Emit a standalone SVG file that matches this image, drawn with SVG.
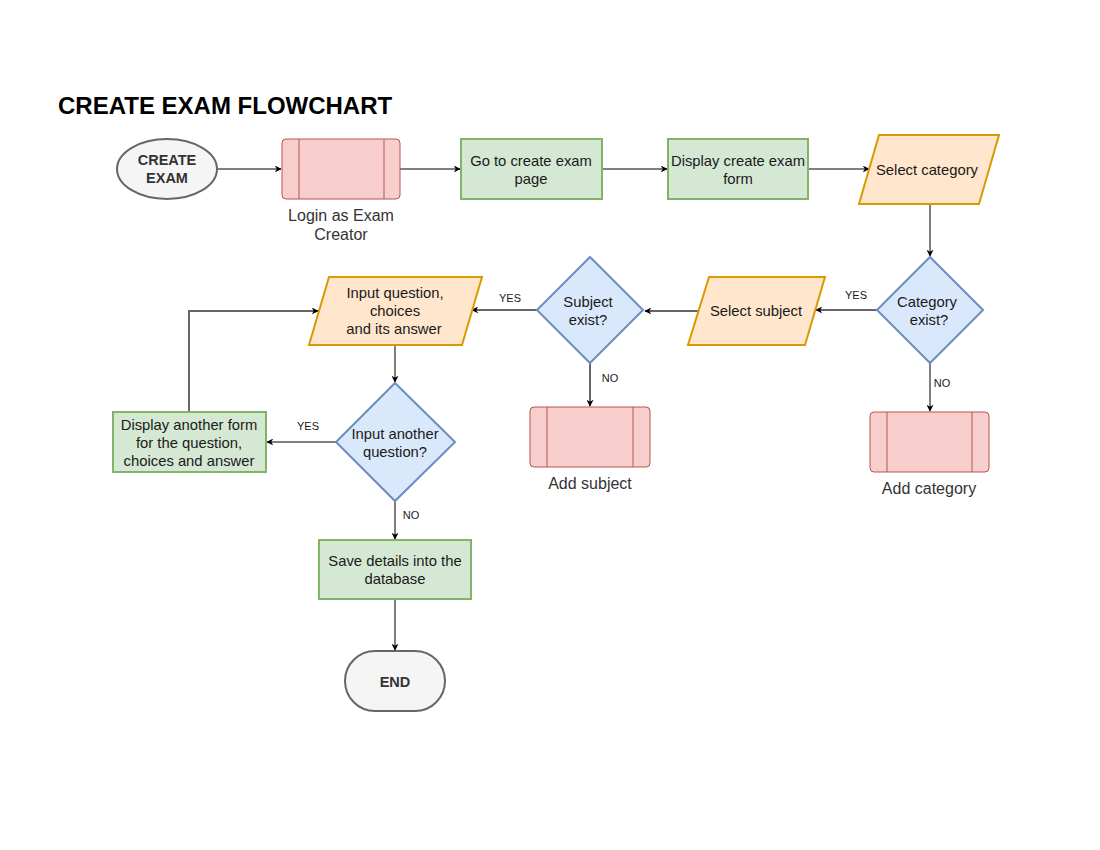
<svg xmlns="http://www.w3.org/2000/svg" width="1100" height="850" viewBox="0 0 1100 850">
<defs>
<marker id="ah" viewBox="0 0 10 10" refX="9" refY="5" markerWidth="7" markerHeight="7" orient="auto" markerUnits="userSpaceOnUse">
<path d="M0,0 L10,5 L0,10 L3,5 Z" fill="#000"/>
</marker>
</defs>
<style>
text{font-family:"Liberation Sans",Arial,sans-serif;fill:#1a1a1a}
.t{font-size:14.8px;text-anchor:middle}
.b{font-weight:bold;fill:#333;font-size:14.5px}
.lbl{font-size:16px;text-anchor:middle;fill:#333}
.el{font-size:11px;text-anchor:middle;fill:#1a1a1a}
.term{fill:#f5f5f5;stroke:#666;stroke-width:2}
.proc{fill:#f8cecc;stroke:#b85450;stroke-width:1}
.act{fill:#d5e8d4;stroke:#82b366;stroke-width:2}
.io{fill:#ffe6cc;stroke:#d79b00;stroke-width:2}
.dec{fill:#dae8fc;stroke:#6c8ebf;stroke-width:2}
.c{fill:none;stroke:#000;stroke-width:1}
.cg{fill:none;stroke:#666;stroke-width:2}
</style>
<rect width="1100" height="850" fill="#fff"/>
<text x="58" y="114" style="font-size:24px;font-weight:bold;fill:#000">CREATE EXAM FLOWCHART</text>

<g id="connectors">
<line class="c" x1="217" y1="169" x2="281" y2="169" marker-end="url(#ah)"/>
<line class="c" x1="400" y1="169" x2="460" y2="169" marker-end="url(#ah)"/>
<line class="c" x1="602" y1="169" x2="667" y2="169" marker-end="url(#ah)"/>
<line class="c" x1="808" y1="169" x2="869" y2="169" marker-end="url(#ah)"/>
<line class="c" x1="930" y1="204" x2="930" y2="256" marker-end="url(#ah)"/>
<line class="cg" x1="877" y1="310" x2="816" y2="310" marker-end="url(#ah)"/>
<line class="cg" x1="698" y1="311" x2="645" y2="311" marker-end="url(#ah)"/>
<line class="cg" x1="537" y1="310" x2="472" y2="310" marker-end="url(#ah)"/>
<line class="cg" x1="590" y1="363" x2="590" y2="406" marker-end="url(#ah)"/>
<line class="c" x1="930" y1="363" x2="930" y2="411" marker-end="url(#ah)"/>
<line class="c" x1="395" y1="345" x2="395" y2="382" marker-end="url(#ah)"/>
<line class="c" x1="336" y1="442" x2="267" y2="442" marker-end="url(#ah)"/>
<polyline class="cg" points="189,412 189,311 318,311" marker-end="url(#ah)"/>
<line class="c" x1="395" y1="501" x2="395" y2="539" marker-end="url(#ah)"/>
<line class="c" x1="395" y1="599" x2="395" y2="650" marker-end="url(#ah)"/>
<rect x="843" y="288" width="26" height="14" fill="#fff"/>
<text class="el" x="856" y="299">YES</text>
<rect x="497" y="290" width="26" height="14" fill="#fff"/>
<text class="el" x="510" y="302">YES</text>
<rect x="295" y="418" width="26" height="14" fill="#fff"/>
<text class="el" x="308" y="430">YES</text>
<rect x="599" y="370" width="22" height="14" fill="#fff"/>
<text class="el" x="610" y="382">NO</text>
<rect x="931" y="376" width="22" height="14" fill="#fff"/>
<text class="el" x="942" y="387">NO</text>
<rect x="400" y="507" width="22" height="14" fill="#fff"/>
<text class="el" x="411" y="519">NO</text>
</g>

<g id="start">
<ellipse class="term" cx="167" cy="169" rx="50" ry="30"/>
<text class="t b" x="167" y="165">CREATE</text>
<text class="t b" x="167" y="183">EXAM</text>
</g>

<g id="login">
<rect class="proc" x="282" y="139" width="118" height="60" rx="4"/>
<line x1="299" y1="139" x2="299" y2="199" stroke="#b85450"/>
<line x1="384" y1="139" x2="384" y2="199" stroke="#b85450"/>
<text class="lbl" x="341" y="221">Login as Exam</text>
<text class="lbl" x="341" y="240">Creator</text>
</g>

<g id="goto">
<rect class="act" x="461" y="139" width="141" height="60"/>
<text class="t" x="531" y="166">Go to create exam</text>
<text class="t" x="531" y="184">page</text>
</g>

<g id="displayform">
<rect class="act" x="668" y="139" width="140" height="60"/>
<text class="t" x="738" y="166">Display create exam</text>
<text class="t" x="738" y="184">form</text>
</g>

<g id="selectcategory">
<polygon class="io" points="879,135 999,135 979,204 859,204"/>
<text class="t" x="927" y="175">Select category</text>
</g>

<g id="categoryexist">
<polygon class="dec" points="930,257 983,310 930,363 877,310"/>
<text class="t" x="927" y="307">Category</text>
<text class="t" x="929" y="325">exist?</text>
</g>

<g id="addcategory">
<rect class="proc" x="870" y="412" width="119" height="60" rx="4"/>
<line x1="887" y1="412" x2="887" y2="472" stroke="#b85450"/>
<line x1="972" y1="412" x2="972" y2="472" stroke="#b85450"/>
<text class="lbl" x="929" y="494">Add category</text>
</g>

<g id="selectsubject">
<polygon class="io" points="709,277 825,277 805,345 688,345"/>
<text class="t" x="756" y="316">Select subject</text>
</g>

<g id="subjectexist">
<polygon class="dec" points="590,257 643,310 590,363 537,310"/>
<text class="t" x="588" y="307">Subject</text>
<text class="t" x="588" y="325">exist?</text>
</g>

<g id="addsubject">
<rect class="proc" x="530" y="407" width="120" height="60" rx="4"/>
<line x1="547" y1="407" x2="547" y2="467" stroke="#b85450"/>
<line x1="633" y1="407" x2="633" y2="467" stroke="#b85450"/>
<text class="lbl" x="590" y="489">Add subject</text>
</g>

<g id="inputquestion">
<polygon class="io" points="329,277 482,277 462,345 309,345"/>
<text class="t" x="395" y="298">Input question,</text>
<text class="t" x="395" y="316">choices</text>
<text class="t" x="394" y="334">and its answer</text>
</g>

<g id="inputanother">
<polygon class="dec" points="395,383 455,442 395,501 336,442"/>
<text class="t" x="395" y="439">Input another</text>
<text class="t" x="395" y="457">question?</text>
</g>

<g id="displayanother">
<rect class="act" x="113" y="412" width="153" height="60"/>
<text class="t" x="189" y="430">Display another form</text>
<text class="t" x="189" y="448">for the question,</text>
<text class="t" x="189" y="466">choices and answer</text>
</g>

<g id="save">
<rect class="act" x="319" y="540" width="152" height="59"/>
<text class="t" x="395" y="566">Save details into the</text>
<text class="t" x="395" y="584">database</text>
</g>

<g id="end">
<rect class="term" x="345" y="651" width="100" height="60" rx="30"/>
<text class="t b" x="395" y="687">END</text>
</g>
</svg>
